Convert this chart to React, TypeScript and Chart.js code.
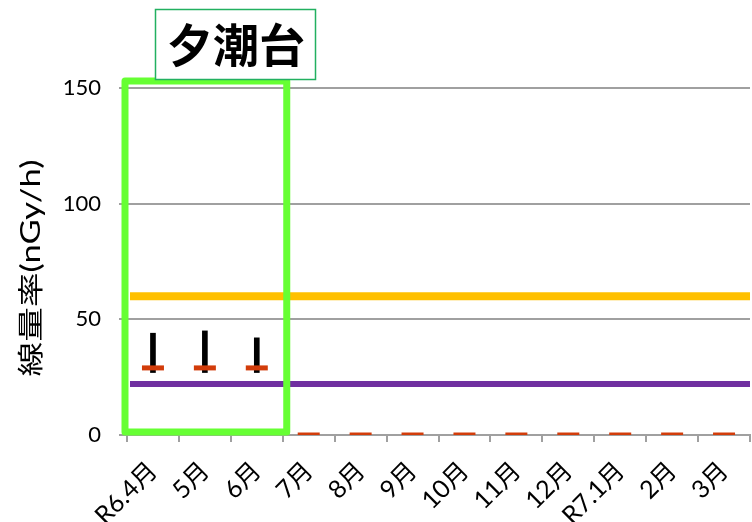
import React, { useEffect, useRef } from 'react';
import { Chart, registerables } from 'chart.js';

Chart.register(...registerables);

const months = ['R6.4月', '5月', '6月', '7月', '8月', '9月', '10月', '11月', '12月', 'R7.1月', '2月', '3月'];
const rangeLow = [27, 27, 27, null, null, null, null, null, null, null, null, null];
const rangeHigh = [44, 45, 42, null, null, null, null, null, null, null, null, null];
const averageValues = [29, 29, 29, 0, 0, 0, 0, 0, 0, 0, 0, 0];
const levelValues = [60, 22];
const levelColors = ['#FFC000', '#7030A0'];
const yMin = 0;
const yMax = 150;
const yStep = 50;
const stationName = '夕潮台';
const yAxisTitle = '線量率(nGy/h)';
const highlightCount = 3;

const FONT = "Lato, 'Noto Sans CJK JP', sans-serif";
const JP = "'Noto Sans CJK JP', sans-serif";

const decorPlugin = {
  id: 'decor',
  beforeDatasetsDraw(chart: any) {
    const { ctx, chartArea, scales } = chart;
    const y = scales.y;
    ctx.save();
    levelValues.forEach((v, i) => {
      const py = y.getPixelForValue(v);
      ctx.strokeStyle = levelColors[i];
      ctx.lineWidth = i === 0 ? 8 : 6;
      ctx.beginPath();
      ctx.moveTo(chartArea.left + 3, py);
      ctx.lineTo(chartArea.right, py);
      ctx.stroke();
    });
    ctx.restore();
  },
  afterDraw(chart: any) {
    const { ctx, chartArea, scales } = chart;
    const x = scales.x;
    const y = scales.y;
    ctx.save();
    // highlight box around the first months
    const half = (x.getPixelForValue(1) - x.getPixelForValue(0)) / 2;
    const right = x.getPixelForValue(highlightCount - 1) + half + 4;
    const left = chartArea.left - 2;
    const top = y.getPixelForValue(yMax) - 7;
    const bottom = y.getPixelForValue(yMin) - 3;
    ctx.strokeStyle = '#66FF33';
    ctx.lineWidth = 7;
    ctx.lineJoin = 'round';
    ctx.strokeRect(left, top, right - left, bottom - top);

    // y-axis title
    ctx.fillStyle = '#000';
    ctx.font = `26px ${FONT}`;
    ctx.translate(32, 268);
    ctx.rotate(-Math.PI / 2);
    const w = ctx.measureText(yAxisTitle).width;
    ctx.scale(217 / w, 1);
    ctx.textAlign = 'center';
    ctx.textBaseline = 'middle';
    ctx.fillText(yAxisTitle, 0, 0);
    ctx.restore();

    // station title box
    ctx.save();
    ctx.fillStyle = '#fff';
    ctx.fillRect(155, 9, 161, 71);
    ctx.strokeStyle = '#22B060';
    ctx.lineWidth = 1.5;
    ctx.strokeRect(155.5, 9.5, 160, 70);
    ctx.fillStyle = '#000';
    ctx.font = `bold 46px ${JP}`;
    ctx.textAlign = 'center';
    ctx.textBaseline = 'middle';
    ctx.fillText(stationName, 236, 45);
    ctx.restore();
  },
};

export default function App() {
  const ref = useRef<HTMLCanvasElement>(null);

  useEffect(() => {
    if (!ref.current) return;
    const chart = new Chart(ref.current, {
      type: 'bar',
      data: {
        labels: months,
        datasets: [
          {
            type: 'line',
            label: '平均',
            data: averageValues,
            showLine: false,
            pointStyle: 'line',
            pointRadius: 11,
            pointHoverRadius: 11,
            pointBorderWidth: 5,
            borderColor: '#D23C0A',
            backgroundColor: '#D23C0A',
            order: 0,
          } as any,
          {
            type: 'bar',
            label: '範囲',
            data: rangeLow.map((lo, i) => (lo === null ? null : [lo, rangeHigh[i]])) as any,
            backgroundColor: '#000',
            barThickness: 5,
            order: 1,
          },
        ],
      },
      options: {
        responsive: false,
        animation: false,
        devicePixelRatio: 1,
        layout: { padding: { top: 88, right: 1, left: 0, bottom: 0 } },
        plugins: {
          legend: { display: false },
          tooltip: { enabled: false },
          title: { display: false },
        },
        scales: {
          x: {
            offset: true,
            grid: {
              display: true,
              offset: true,
              drawOnChartArea: false,
              drawTicks: true,
              tickLength: 7,
              color: '#A0A0A0',
              lineWidth: 2,
            },
            border: { display: true, color: '#A0A0A0', width: 2 },
            ticks: {
              autoSkip: false,
              minRotation: 45,
              maxRotation: 45,
              color: '#000',
              padding: 14,
              font: { family: FONT, size: 25 },
            },
            afterFit(scale: any) {
              scale.height = 87;
            },
          },
          y: {
            min: yMin,
            max: yMax,
            ticks: {
              stepSize: yStep,
              color: '#000',
              padding: 18,
              font: { family: FONT, size: 22 },
            },
            grid: {
              color: '#A0A0A0',
              lineWidth: 2,
              tickLength: 8,
            },
            border: { display: true, color: '#A0A0A0', width: 2 },
            afterFit(scale: any) {
              scale.width = 127;
            },
          },
        },
      },
      plugins: [decorPlugin],
    });
    return () => chart.destroy();
  }, []);

  return (
    <div
      style={{
        position: 'fixed',
        left: 0,
        top: 0,
        width: 752,
        height: 522,
        overflow: 'hidden',
        background: '#fff',
      }}
    >
      <canvas ref={ref} width={766} height={522} style={{ display: 'block', width: 766, height: 522 }} />
    </div>
  );
}
